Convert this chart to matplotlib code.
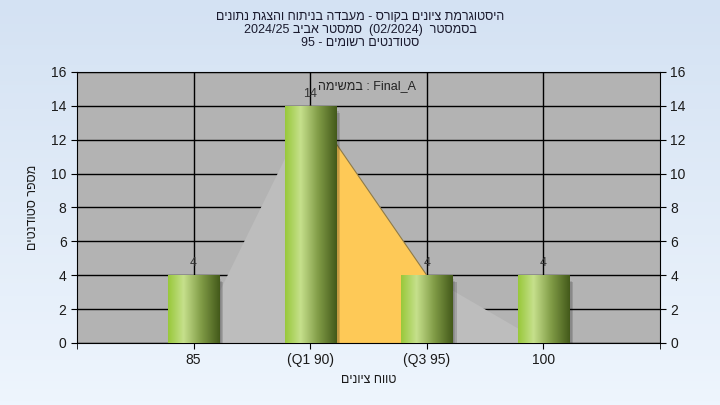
import re
import numpy as np
import matplotlib.pyplot as plt
from matplotlib.patches import Rectangle
from matplotlib.colors import LinearSegmentedColormap

plt.rcParams['font.family'] = ['Liberation Sans', 'DejaVu Sans']

# data
categories = ['85', '(Q1 90)', '(Q3 95)', '100']
counts = [4, 14, 4, 4]
curve = [0, 14, 4, 0]      # background area outline
q1_idx, q3_idx = 1, 2      # orange band between the quartiles

title_lines = ['היסטוגרמת ציונים בקורס - מעבדה בניתוח והצגת נתונים',
               'בסמסטר  (02/2024)  סמסטר אביב 2024/25',
               'סטודנטים רשומים - 95']
task_label = 'Final_A : במשימה'
xlabel = 'טווח ציונים'
ylabel = 'מספר סטודנטים'


def rtl(s):
    # crude visual reordering for a right-to-left line (matplotlib has no bidi)
    parts = re.findall(r'[\u0590-\u05FF]+|[0-9A-Za-z_/.]+|.', s)
    mirror = {'(': ')', ')': '('}
    out = []
    for p in reversed(parts):
        if re.match(r'[\u0590-\u05FF]', p):
            out.append(p[::-1])
        else:
            out.append(mirror.get(p, p))
    return ''.join(out)


fig = plt.figure(figsize=(7.2, 4.05), dpi=100)

# figure background gradient
bg = fig.add_axes([0, 0, 1, 1], zorder=-10)
bg_cmap = LinearSegmentedColormap.from_list('bg', ['#d4e2f3', '#eef5fd'])
bg.imshow(np.linspace(0, 1, 100).reshape(-1, 1), aspect='auto', cmap=bg_cmap,
          extent=[0, 1, 0, 1])
bg.axis('off')

ax = fig.add_axes([77/720, 1-343/405, 583/720, 271/405])
ax.set_facecolor('#b3b3b3')
x = np.arange(len(categories))

# grid
ax.set_axisbelow(True)
ax.grid(True, color='black', linewidth=1.0, zorder=0)

# area behind bars
ax.fill_between(x, curve, color='#bdbdbd', zorder=1, linewidth=0)
xs = np.linspace(q1_idx, q3_idx, 50)
ax.fill_between(xs, np.interp(xs, x, curve), color='#fec957', zorder=1.1, linewidth=0)
ax.plot([q1_idx, q3_idx], [curve[q1_idx], curve[q3_idx]], color='#8c7a4a', lw=0.8, zorder=1.2)

# bars with shadow and horizontal gradient
bar_w = 0.44
green = LinearSegmentedColormap.from_list('g', [(0, '#98c83a'), (0.3, '#c6e08c'),
                                               (0.65, '#7f9a45'), (1, '#43591a')])
grad = np.linspace(0, 1, 256).reshape(1, -1)
for xi, c in zip(x, counts):
    for k, a in enumerate([0.08, 0.10, 0.14]):
        off = 0.012 + k * 0.012
        ax.add_patch(Rectangle((xi - bar_w/2 + off, -0.2), bar_w, c - 0.05 - k*0.08,
                               color='black', alpha=a, lw=0, zorder=2))
    rect = Rectangle((xi - bar_w/2, 0), bar_w, c, facecolor='none', lw=0, zorder=3)
    ax.add_patch(rect)
    im = ax.imshow(grad, cmap=green, aspect='auto', zorder=3,
                   extent=[xi - bar_w/2, xi + bar_w/2, 0, c])
    im.set_clip_path(rect)
    ax.text(xi, c + 0.35, str(c), ha='center', va='bottom', fontsize=9, color='#333333', zorder=4)

ax.set_xlim(-1, len(categories))
ax.set_ylim(0, 16)

ax.text(0.497, 0.948, rtl(task_label), transform=ax.transAxes, ha='center', va='center',
        fontsize=9, color='#222222')

ax.set_xticks(x)
ax.set_xticklabels(categories)
ax.set_xticks([-1, len(categories)], minor=True)
ax.set_yticks(range(0, 17, 2))
ax.tick_params(axis='both', which='both', direction='out', length=4, color='black',
               labelsize=10, labelcolor='#1a1a1a')
ax.tick_params(axis='y', right=True, labelright=True)
for s in ax.spines.values():
    s.set_color('black')

ax.set_xlabel(rtl(xlabel), fontsize=9, color='#1a1a1a', labelpad=5)
ax.set_ylabel(rtl(ylabel), fontsize=9, color='#1a1a1a', labelpad=9)

for i, line in enumerate(title_lines):
    fig.text(0.5, 1 - (17 + 13 * i) / 405, rtl(line), ha='center', va='center', fontsize=9,
             color='#1a1a2e')

fig.savefig('out.png', dpi=100)
